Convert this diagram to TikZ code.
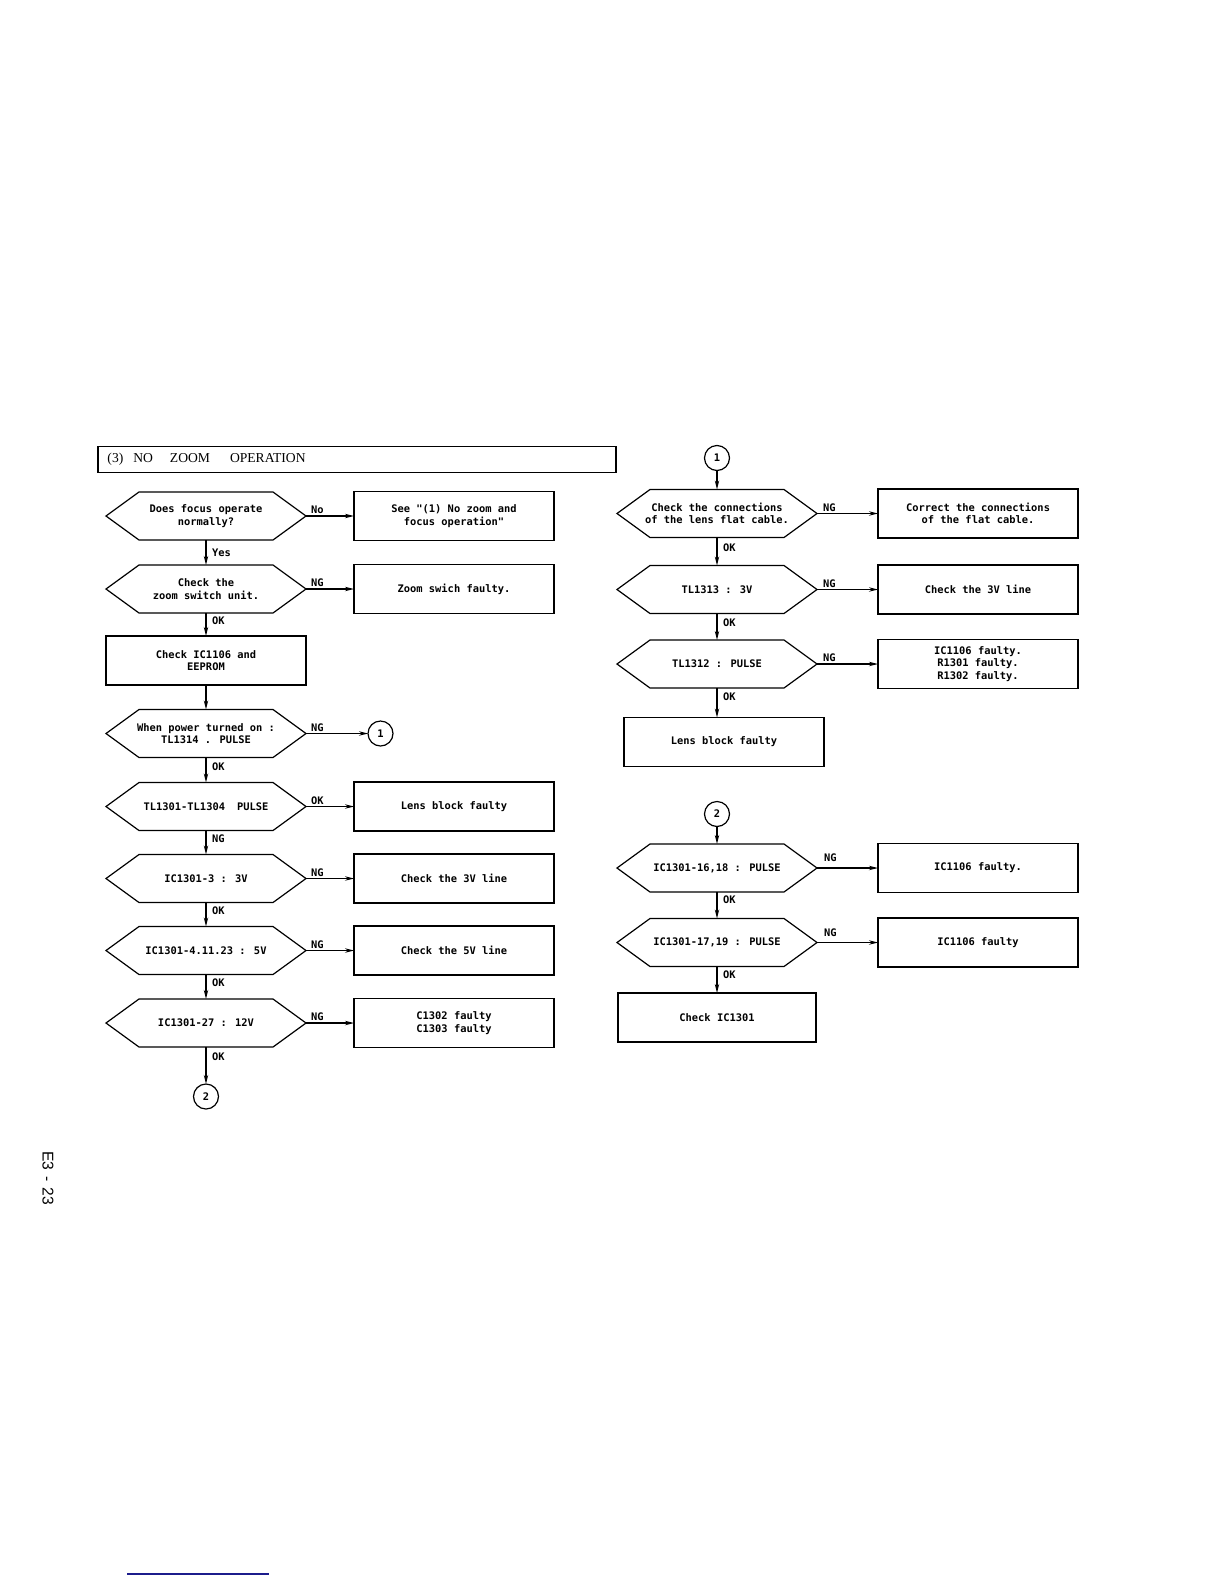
\documentclass[tikz,border=0pt]{standalone}
\usepackage{fontspec}
\setmainfont{Liberation Serif}
\newfontfamily\flowfont{DejaVu Sans Mono}
\newfontfamily\pagefont{Liberation Sans}
\usetikzlibrary{arrows.meta,positioning}
\definecolor{pagerule}{HTML}{1C1C8C}

\begin{document}
\begin{tikzpicture}[x=0.5bp,y=-0.5bp,line width=0.6bp,font={\flowfont\bfseries\fontsize{5.2bp}{6.2bp}\selectfont}]
  \tikzset{checkstep/.style={minimum width=100bp, minimum height=24bp, inner sep=0pt, outer sep=0pt, align=center},
    faultbox/.style={draw, minimum width=100bp, minimum height=24.5bp, inner sep=0pt, outer sep=0pt, align=center},
    pageref/.style={draw, circle, minimum size=12.5bp, inner sep=0pt, outer sep=0pt},
    flowline/.style={-{Stealth[length=4.5bp,width=2.2bp]}},
    flowlabel/.style={inner sep=0.8bp},
    downlabel/.style={right, inner sep=0.8bp, xshift=2bp}}
  \useasboundingbox[fill=white] (0,0) rectangle (1224,1584);
  % heading
  \node[draw, minimum width=259bp, minimum height=12bp, text width=249.5bp, inner xsep=4.75bp, align=left,
    font={\rmfamily\fontsize{6.8bp}{7.5bp}\selectfont}] (title) at (357,459.5)
    {(3)\hspace{5bp}NO\hspace{8.5bp}ZOOM\hspace{10bp}OPERATION};
  % left column
  \node[checkstep] (q1) at (206,516) {Does focus operate\\normally?};
  \node[faultbox, right=24bp of q1] (b1) {See "(1) No zoom and\\focus operation"};
  \node[checkstep, below=12.5bp of q1] (q2) {Check the\\zoom switch unit.};
  \node[faultbox, right=24bp of q2] (b2) {Zoom swich faulty.};
  \node[faultbox, below=11.5bp of q2] (s1) {Check IC1106 and\\EEPROM};
  \node[checkstep, below=12.25bp of s1] (q3) {When power turned on :\\TL1314 . PULSE};
  \node[pageref, right=31bp of q3] (c1) {1};
  \node[checkstep, below=12.5bp of q3] (q4) {TL1301-TL1304\hspace{6bp}PULSE};
  \node[faultbox, right=24bp of q4] (b4) {Lens block faulty};
  \node[checkstep, below=12bp of q4] (q5) {IC1301-3 : 3V};
  \node[faultbox, right=24bp of q5] (b5) {Check the 3V line};
  \node[checkstep, below=12bp of q5] (q6) {IC1301-4.11.23 : 5V};
  \node[faultbox, right=24bp of q6] (b6) {Check the 5V line};
  \node[checkstep, below=12.25bp of q6] (q7) {IC1301-27 : 12V};
  \node[faultbox, right=24bp of q7] (b7) {C1302 faulty\\C1303 faulty};
  \node[pageref, below=18.5bp of q7] (c2) {2};
  % right column
  \node[pageref] (c3) at (717,458) {1};
  \node[checkstep, below=9.5bp of c3] (r1) {Check the connections\\of the lens flat cable.};
  \node[faultbox, right=30.5bp of r1] (rb1) {Correct the connections\\of the flat cable.};
  \node[checkstep, below=14bp of r1] (r2) {TL1313 : 3V};
  \node[faultbox, right=30.5bp of r2] (rb2) {Check the 3V line};
  \node[checkstep, below=13.25bp of r2] (r3) {TL1312 : PULSE};
  \node[faultbox, right=30.5bp of r3] (rb3) {IC1106 faulty.\\R1301 faulty.\\R1302 faulty.};
  \node[faultbox] (rl) at (724,742) {Lens block faulty};
  \node[pageref] (c4) at (717,814) {2};
  \node[checkstep, below=8.75bp of c4] (r5) {IC1301-16,18 : PULSE};
  \node[faultbox, right=30.5bp of r5] (rb5) {IC1106 faulty.};
  \node[checkstep, below=13.25bp of r5] (r6) {IC1301-17,19 : PULSE};
  \node[faultbox, right=30.5bp of r6] (rb6) {IC1106 faulty};
  \node[faultbox, minimum width=99bp, below=13.25bp of r6] (rc) {Check IC1301};
  % hexagon outlines
  \foreach \n in {q1,q2,q3,q4,q5,q6,q7,r1,r2,r3,r5,r6}
    \draw (\n.west) -- ([xshift=16.5bp]\n.north west) -- ([xshift=-16.5bp]\n.north east)
      -- (\n.east) -- ([xshift=-16.5bp]\n.south east) -- ([xshift=16.5bp]\n.south west) -- cycle;
  % connectors
  \draw[flowline] (q1.east) -- (q1.east -| b1.west) node[flowlabel, above right, pos=0, xshift=1.5bp] {No};
  \draw[flowline] (q1.south) -- (q2.north) node[downlabel, midway] {Yes};
  \draw[flowline] (q2.east) -- (q2.east -| b2.west) node[flowlabel, above right, pos=0, xshift=1.5bp] {NG};
  \draw[flowline] (q2.south) -- (s1.north) node[downlabel, pos=0.35] {OK};
  \draw[flowline] (s1.south) -- (q3.north);
  \draw[flowline] (q3.east) -- (c1.west) node[flowlabel, above right, pos=0, xshift=1.5bp] {NG};
  \draw[flowline] (q3.south) -- (q4.north) node[downlabel, pos=0.35] {OK};
  \draw[flowline] (q4.east) -- (q4.east -| b4.west) node[flowlabel, above right, pos=0, xshift=1.5bp] {OK};
  \draw[flowline] (q4.south) -- (q5.north) node[downlabel, pos=0.35] {NG};
  \draw[flowline] (q5.east) -- (q5.east -| b5.west) node[flowlabel, above right, pos=0, xshift=1.5bp] {NG};
  \draw[flowline] (q5.south) -- (q6.north) node[downlabel, pos=0.35] {OK};
  \draw[flowline] (q6.east) -- (q6.east -| b6.west) node[flowlabel, above right, pos=0, xshift=1.5bp] {NG};
  \draw[flowline] (q6.south) -- (q7.north) node[downlabel, pos=0.35] {OK};
  \draw[flowline] (q7.east) -- (q7.east -| b7.west) node[flowlabel, above right, pos=0, xshift=1.5bp] {NG};
  \draw[flowline] (q7.south) -- (c2.north) node[downlabel, pos=0.25] {OK};
  \draw[flowline] (c3.south) -- (r1.north);
  \draw[flowline] (r1.east) -- (r1.east -| rb1.west) node[flowlabel, above right, pos=0, xshift=2bp] {NG};
  \draw[flowline] (r1.south) -- (r2.north) node[downlabel, pos=0.35] {OK};
  \draw[flowline] (r2.east) -- (r2.east -| rb2.west) node[flowlabel, above right, pos=0, xshift=2bp] {NG};
  \draw[flowline] (r2.south) -- (r3.north) node[downlabel, pos=0.35] {OK};
  \draw[flowline] (r3.east) -- (r3.east -| rb3.west) node[flowlabel, above right, pos=0, xshift=2bp] {NG};
  \draw[flowline] (r3.south) -- (r3.south |- rl.north) node[downlabel, pos=0.3] {OK};
  \draw[flowline] (c4.south) -- (r5.north);
  \draw[flowline] (r5.east) -- (r5.east -| rb5.west) node[flowlabel, above right, pos=0, xshift=2.5bp, yshift=2bp] {NG};
  \draw[flowline] (r5.south) -- (r6.north) node[downlabel, pos=0.3] {OK};
  \draw[flowline] (r6.east) -- (r6.east -| rb6.west) node[flowlabel, above right, pos=0, xshift=2.5bp, yshift=2bp] {NG};
  \draw[flowline] (r6.south) -- (rc.north) node[downlabel, pos=0.3] {OK};
  % page number and rule
  \node[rotate=-90, font={\pagefont\fontsize{7.8bp}{9bp}\selectfont}] (pageno) at (48,1178) {E3\hspace{3bp}-\hspace{3bp}23};
  \draw[pagerule, line width=0.7bp] (127,1574) -- (269,1574);
\end{tikzpicture}
\end{document}
